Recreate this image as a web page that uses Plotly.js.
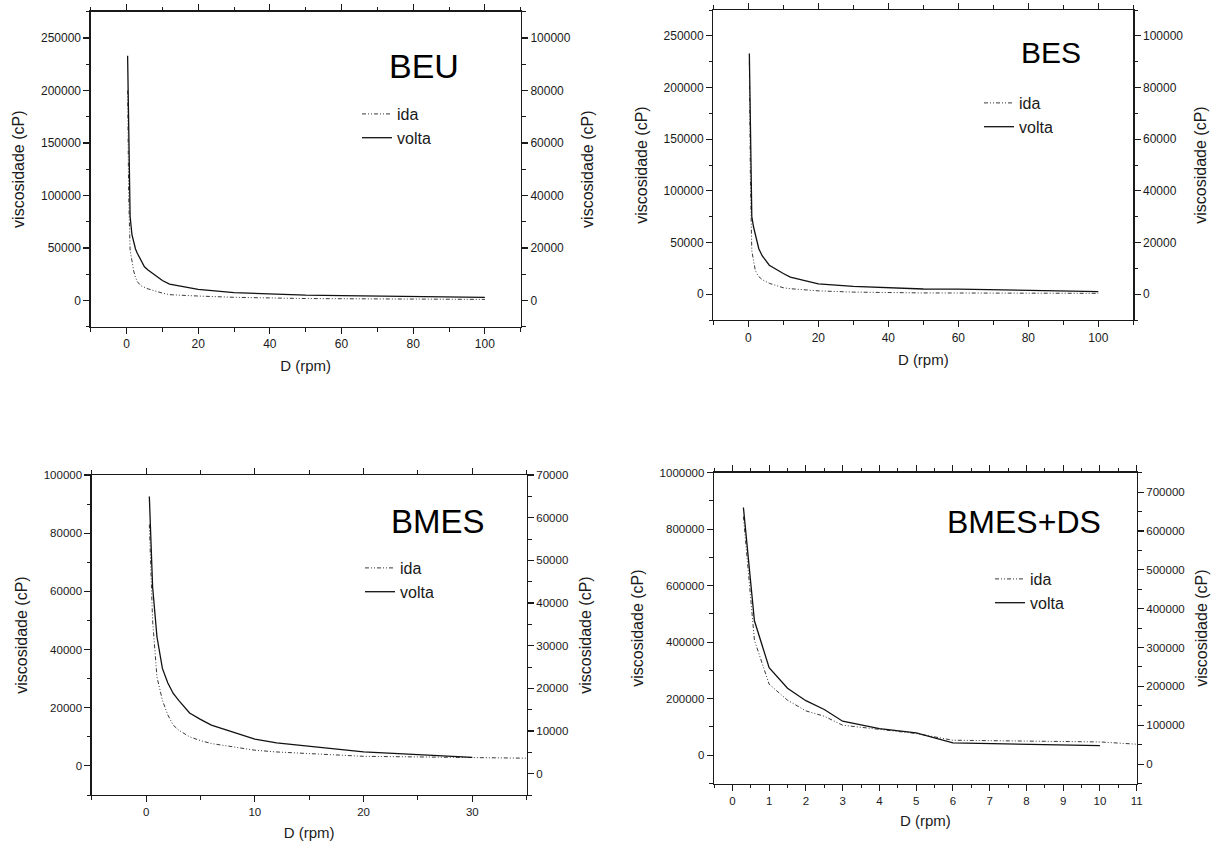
<!DOCTYPE html>
<html><head><meta charset="utf-8">
<script src="https://cdn.plot.ly/plotly-3.0.1.min.js"></script>
<style>html,body{margin:0;padding:0;background:#fff}#chart{width:1221px;height:845px}</style>
</head><body><div id="chart"></div>
<script>
// ---- data ----
const panelNames = ['BEU', 'BES', 'BMES', 'BMES+DS'];
const seriesNames = ['ida', 'volta'];
const xTitle = 'D (rpm)';
const yTitle = 'viscosidade (cP)';

const beuD      = [0.3, 0.5, 0.6, 1, 1.5, 2, 2.5, 3, 4, 5, 6, 10, 12, 20, 30, 50, 60, 100];
const beuIda    = [200000, 130000, 100000, 48000, 36000, 28000, 22000, 18000, 14000, 12500, 11000, 7000, 5500, 4200, 3000, 1800, 1600, 1000];
const beuVolta  = [233000, 190000, 150000, 80000, 63000, 55000, 49000, 45000, 38000, 32000, 29000, 19000, 15500, 10500, 7500, 5000, 4600, 3000];

const besD      = [0.3, 0.5, 0.6, 1, 1.5, 2, 2.5, 3, 4, 5, 6, 10, 12, 20, 30, 50, 60, 100];
const besIda    = [225000, 150000, 110000, 42000, 30000, 23000, 19500, 17000, 14000, 12000, 10500, 6200, 5300, 3200, 2000, 1200, 1100, 800];
const besVolta  = [233000, 181000, 130000, 75000, 65000, 57000, 50000, 44000, 37000, 32000, 28000, 20000, 16500, 10000, 7500, 5000, 4800, 2500];

const bmesIdaD   = [0.3, 0.5, 0.6, 1, 1.5, 2, 2.5, 3, 4, 5, 6, 10, 12, 20, 30, 50];
const bmesIda    = [83000, 60000, 50000, 30600, 22600, 17500, 14000, 12300, 10000, 8700, 7700, 5400, 4800, 3300, 2800, 2000];
const bmesVoltaD = [0.3, 0.5, 0.6, 1, 1.5, 2, 2.5, 3, 4, 5, 6, 10, 12, 20, 30];
const bmesVolta  = [92600, 70000, 61600, 44400, 33500, 28500, 24900, 22500, 18200, 16000, 14000, 9200, 7900, 4800, 2900];

const dsIdaD     = [0.3, 0.6, 1, 1.5, 2, 2.5, 3, 4, 5, 6, 10, 12];
const dsIda      = [845000, 407000, 251500, 194800, 157000, 138100, 106300, 91000, 76900, 53100, 47100, 31000];
const dsVoltaD   = [0.3, 0.6, 1, 1.5, 2, 2.5, 3, 4, 5, 6, 10];
const dsVolta    = [877000, 476000, 310000, 237000, 193000, 162000, 120500, 94500, 79500, 43700, 34300];

// axis ranges / ticks
const xRanges  = [[-10, 110], [-10, 110], [-5, 35], [-0.5, 11]];
const xDticks  = [20, 20, 10, 1];
const xMinor   = [10, 10, 5, 0.5];
const yLRanges = [[-25000, 275000], [-25000, 275000], [-10000, 100000], [-100000, 1000000]];
const yLDticks = [50000, 50000, 20000, 200000];
const yLMinor  = [25000, 25000, 10000, 100000];
const yRRanges = [[-10000, 110000], [-10000, 110000], [-5000, 70000], [-50000, 750000]];
const yRDticks = [20000, 20000, 10000, 100000];
const yRMinor  = [10000, 10000, 5000, 50000];

// ---- layout geometry (pixels) ----
const W = 1221, H = 845;
const boxes = [ // [left, right, top, bottom]
  [90.7, 520.7, 11.7, 326.7],
  [713.3, 1133.3, 10, 320],
  [91.7, 526.7, 475, 795],
  [714, 1136.7, 472.7, 783.5]
];
const tickFont = [12, 12, 11.5, 11.5];
const labelPos = [[424, 66, 34], [1051, 52, 30], [438, 521, 33], [1024, 522, 32]];
const legendPos = [[357, 97], [979, 86], [360, 551], [990, 562]];

const seriesData = [
  [[beuD, beuIda], [beuD, beuVolta]],
  [[besD, besIda], [besD, besVolta]],
  [[bmesIdaD, bmesIda], [bmesVoltaD, bmesVolta]],
  [[dsIdaD, dsIda], [dsVoltaD, dsVolta]]
];

const ink = '#1a1a1a';
const traces = [];
const layout = {
  width: W, height: H,
  margin: {l: 0, r: 0, t: 0, b: 0},
  paper_bgcolor: '#fff', plot_bgcolor: '#fff',
  font: {family: 'Liberation Sans, Arial, sans-serif', color: ink},
  annotations: [],
  showlegend: true
};

function axBase(fs) {
  return {
    showgrid: false, zeroline: false, showline: true, linecolor: ink, linewidth: 1.3,
    ticks: 'outside', ticklen: 6, tickwidth: 1.1, tickcolor: ink,
    tickfont: {size: fs, color: ink}, tickformat: 'd'
  };
}
const minorTicks = d => ({dtick: d, tick0: 0, ticks: 'outside', ticklen: 3.5, tickcolor: ink, tickwidth: 1});

for (let p = 0; p < 4; p++) {
  const b = boxes[p];
  const xd = [b[0] / W, b[1] / W];
  const yd = [1 - b[3] / H, 1 - b[2] / H];
  const xName = p === 0 ? 'xaxis' : 'xaxis' + (p + 1);
  const xRef = p === 0 ? 'x' : 'x' + (p + 1);
  const yLn = 2 * p + 1, yRn = 2 * p + 2;
  const yLName = yLn === 1 ? 'yaxis' : 'yaxis' + yLn;
  const yLRef = yLn === 1 ? 'y' : 'y' + yLn;
  const yRName = 'yaxis' + yRn;
  const yRRef = 'y' + yRn;
  const legName = p === 0 ? 'legend' : 'legend' + (p + 1);

  layout[xName] = Object.assign(axBase(tickFont[p]), {
    domain: xd, anchor: yLRef, range: xRanges[p], dtick: xDticks[p], tick0: 0,
    mirror: 'ticks', tickformat: '', minor: minorTicks(xMinor[p]),
    title: {text: xTitle, font: {size: 15, color: ink}, standoff: 10}
  });
  layout[yLName] = Object.assign(axBase(tickFont[p]), {
    domain: yd, anchor: xRef, range: yLRanges[p], dtick: yLDticks[p], tick0: 0,
    minor: minorTicks(yLMinor[p]),
    title: {text: yTitle, font: {size: 16, color: ink}, standoff: 12}
  });
  layout[yRName] = Object.assign(axBase(tickFont[p]), {
    overlaying: yLRef, side: 'right', anchor: xRef, range: yRRanges[p], dtick: yRDticks[p], tick0: 0,
    minor: minorTicks(yRMinor[p]),
    title: {text: yTitle, font: {size: 16, color: ink}, standoff: 12}
  });

  layout[legName] = {
    x: legendPos[p][0] / W, y: 1 - legendPos[p][1] / H, xanchor: 'left', yanchor: 'top',
    bgcolor: 'rgba(0,0,0,0)', borderwidth: 0, font: {size: 16, color: ink},
    tracegroupgap: 0
  };

  const sd = seriesData[p];
  traces.push({
    type: 'scatter', mode: 'lines', x: sd[0][0], y: sd[0][1], name: seriesNames[0],
    xaxis: xRef, yaxis: yLRef, legend: legName,
    line: {color: '#3a3a3a', width: 1, dash: '4px,2px,1px,2px,1px,2px'}
  });
  traces.push({
    type: 'scatter', mode: 'lines', x: sd[1][0], y: sd[1][1], name: seriesNames[1],
    xaxis: xRef, yaxis: yLRef, legend: legName,
    line: {color: '#111', width: 1.3}
  });
  // empty trace so the right-hand (secondary) axis is created
  traces.push({
    type: 'scatter', mode: 'lines', x: [], y: [], xaxis: xRef, yaxis: yRRef,
    showlegend: false, hoverinfo: 'skip'
  });

  layout.annotations.push({
    xref: 'paper', yref: 'paper', x: labelPos[p][0] / W, y: 1 - labelPos[p][1] / H,
    xanchor: 'center', yanchor: 'middle', showarrow: false,
    text: panelNames[p], font: {size: labelPos[p][2], color: '#000'}
  });
}

Plotly.newPlot('chart', traces, layout, {displayModeBar: false, staticPlot: true});
</script>
</body></html>
